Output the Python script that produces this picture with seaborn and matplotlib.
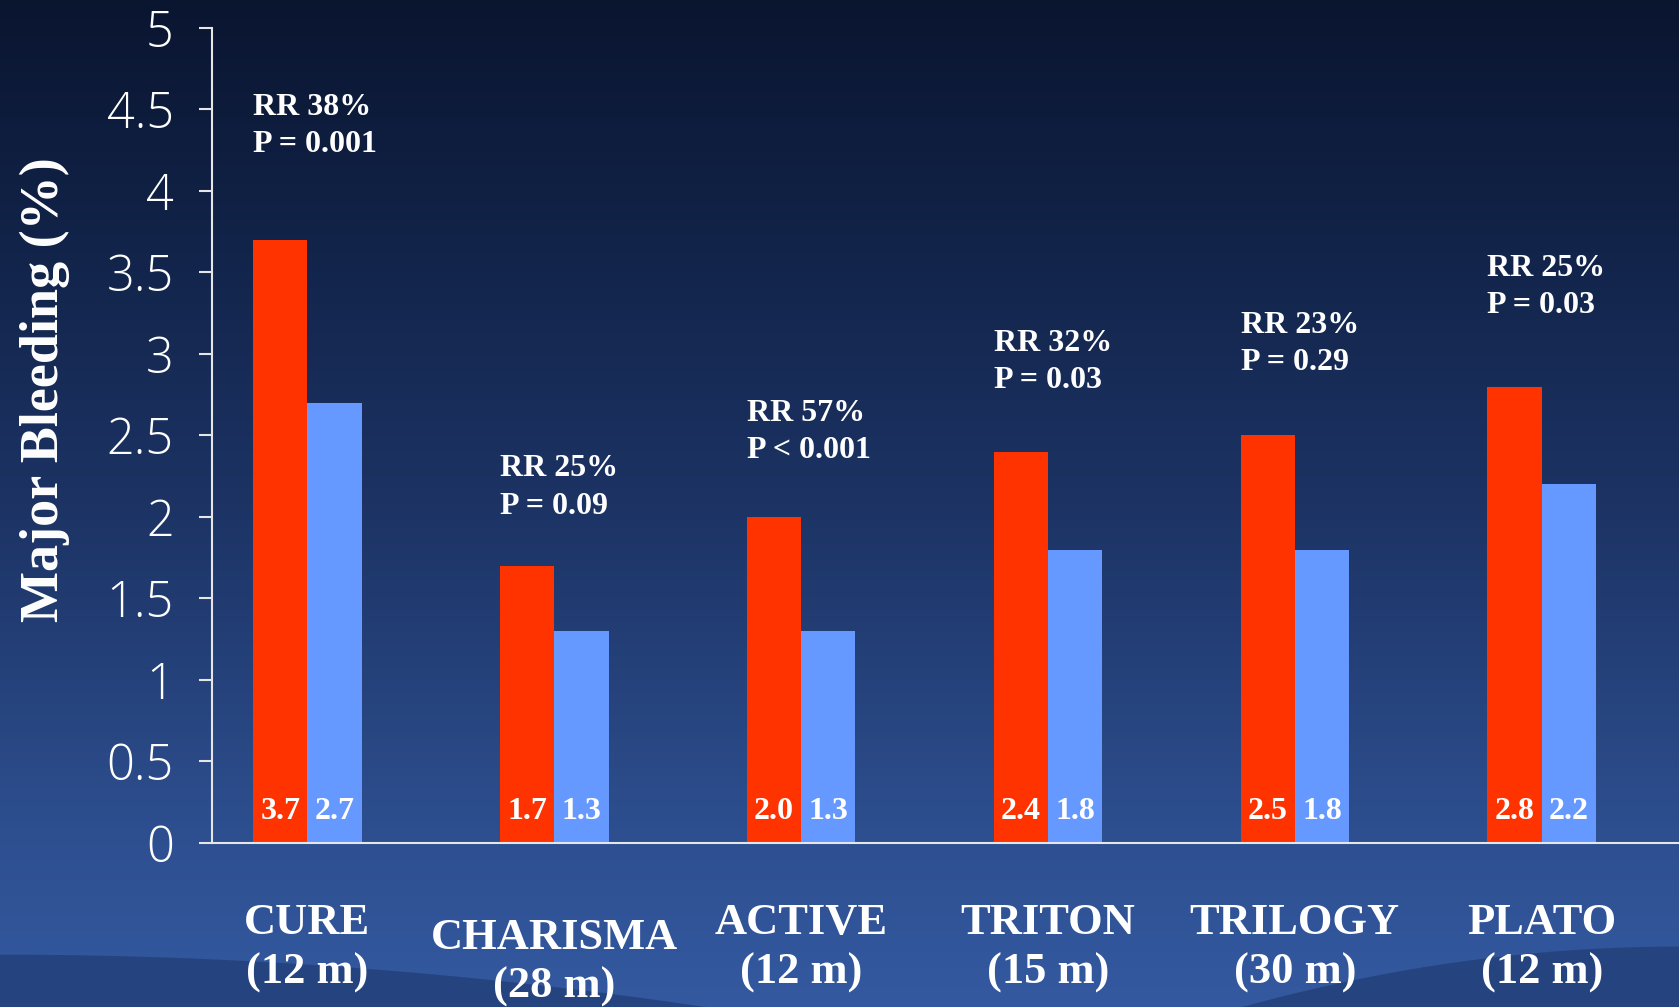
import numpy as np
import pandas as pd
import seaborn as sns
import matplotlib.pyplot as plt
import matplotlib.transforms as mtransforms
from matplotlib.colors import LinearSegmentedColormap

# data
trials = ['CURE', 'CHARISMA', 'ACTIVE', 'TRITON', 'TRILOGY', 'PLATO']
durations = ['(12 m)', '(28 m)', '(12 m)', '(15 m)', '(30 m)', '(12 m)']
red_vals = [3.7, 1.7, 2.0, 2.4, 2.5, 2.8]
blue_vals = [2.7, 1.3, 1.3, 1.8, 1.8, 2.2]
rr_text = ['RR 38%', 'RR 25%', 'RR 57%', 'RR 32%', 'RR 23%', 'RR 25%']
p_text = ['P = 0.001', 'P = 0.09', 'P < 0.001', 'P = 0.03', 'P = 0.29', 'P = 0.03']

# where the RR / P notes sit (baseline of the P line, data units)
note_y = [4.24, 2.02, 2.36, 2.79, 2.90, 3.25]
# baseline of the "(xx m)" line, axes fraction
label_y = [-0.172, -0.190, -0.172, -0.172, -0.172, -0.172]

df = pd.DataFrame({
    'trial': trials * 2,
    'arm': ['red'] * len(trials) + ['blue'] * len(trials),
    'value': red_vals + blue_vals,
})

sns.set_theme(style='ticks')
RED = '#ff3300'
BLUE = '#6699ff'
serif = ['Liberation Serif', 'DejaVu Serif']

fig = plt.figure(figsize=(16.79, 10.07), dpi=100)

# background gradient
bg = fig.add_axes([0, 0, 1, 1], zorder=-2)
cmap = LinearSegmentedColormap.from_list('bg', [
    (0.0, '#3459a0'), (0.16, '#2e5091'), (0.5, '#1c3364'),
    (0.75, '#12244a'), (1.0, '#0a1530')])
grad = np.linspace(0, 1, 256).reshape(-1, 1)
bg.imshow(grad, aspect='auto', cmap=cmap, origin='lower', extent=[0, 1, 0, 1])
# darker swooshes near the bottom corners
xs = np.linspace(0, 1, 300)
bg.fill_between(xs, 0, np.clip(0.052 * (1 - (xs / 0.42) ** 2), 0, None),
                color='#223f78', alpha=0.8, lw=0)
bg.fill_between(xs, 0, np.clip(0.06 * (1 - ((1 - xs) / 0.26) ** 2), 0, None),
                color='#223f78', alpha=0.8, lw=0)
bg.set_xlim(0, 1)
bg.set_ylim(0, 1)
bg.axis('off')

ax = fig.add_axes([0.1263, 0.1629, 1 - 0.1263, 0.9722 - 0.1629])
ax.set_facecolor('none')
sns.barplot(data=df, x='trial', y='value', hue='arm', palette=[RED, BLUE],
            width=0.44, saturation=1, linewidth=0, legend=False, ax=ax)

ax.set_xlim(-0.386, 5.556)
ax.set_ylim(0, 5)
ax.set_yticks(np.arange(0, 5.01, 0.5))
ax.set_yticklabels(['0', '0.5', '1', '1.5', '2', '2.5', '3', '3.5', '4', '4.5', '5'])
ax.set_xticks([])
ax.set_xlabel('')
ax.set_ylabel('')

for s in ['top', 'right']:
    ax.spines[s].set_visible(False)
for s in ['left', 'bottom']:
    ax.spines[s].set_color('#e6e6e6')
    ax.spines[s].set_linewidth(1.5)
ax.tick_params(axis='y', direction='out', length=9.5, width=1.5, color='#e6e6e6',
               pad=18, labelcolor='white', labelsize=35)
for lab in ax.get_yticklabels():
    lab.set_family(['Open Sans', 'DejaVu Sans'])
    lab.set_fontweight('light')

# value labels inside bars, RR/P notes above
for i in range(len(trials)):
    ax.text(i - 0.11, 0.15, f'{red_vals[i]:.1f}', ha='center', va='baseline',
            color='white', fontsize=23, fontweight='bold', family=serif)
    ax.text(i + 0.11, 0.15, f'{blue_vals[i]:.1f}', ha='center', va='baseline',
            color='white', fontsize=23, fontweight='bold', family=serif)
    ax.text(i - 0.22, note_y[i], rr_text[i] + '\n' + p_text[i], ha='left',
            va='baseline', color='white', fontsize=23, fontweight='bold',
            family=serif, linespacing=1.38)

# category labels below the axis
trans = mtransforms.blended_transform_factory(ax.transData, ax.transAxes)
for i in range(len(trials)):
    ax.text(i, label_y[i], trials[i] + '\n' + durations[i], transform=trans,
            ha='center', va='baseline', color='white', fontsize=32,
            fontweight='bold', family=serif, linespacing=1.3, clip_on=False)

fig.text(0.027, 0.613, 'Major Bleeding (%)', rotation=90, ha='center', va='center',
         color='white', fontsize=39, fontweight='bold', family=serif)

fig.savefig('out.png', dpi=100)
